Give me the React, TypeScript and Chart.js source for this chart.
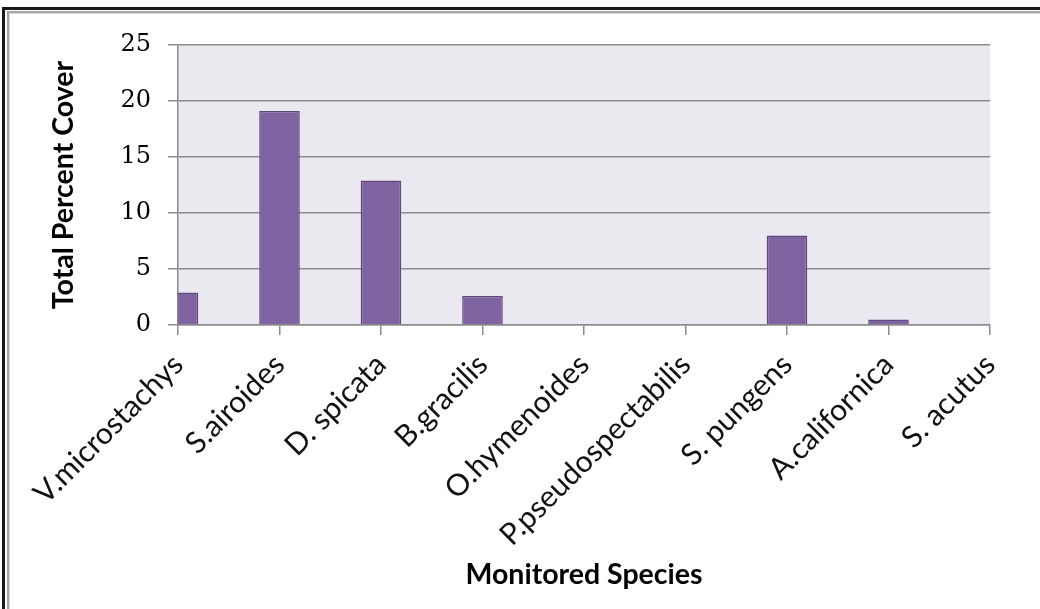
import React, { useEffect, useRef } from "react";
import { Chart, registerables } from "chart.js";

Chart.register(...registerables);

// Species monitored along the transects
const species = [
  "V.microstachys",
  "S.airoides",
  "D. spicata",
  "B.gracilis",
  "O.hymenoides",
  "P.pseudospectabilis",
  "S. pungens",
  "A.californica",
  "S. acutus",
];

// Total percent cover per species
const percentCover = [2.9, 19.1, 12.9, 2.6, 0, 0, 8.0, 0.5, 0];

// Y-axis range and step
const yMin = 0;
const yMax = 25;
const yStep = 5;

const W = 1040;
const H = 609;

// Shades the plotting area behind grid and bars
const plotBackground = {
  id: "plotBackground",
  beforeDraw(chart: any) {
    const { ctx, chartArea } = chart;
    ctx.save();
    ctx.fillStyle = "#ebe9f0";
    ctx.fillRect(
      chartArea.left,
      chartArea.top,
      chartArea.right - chartArea.left,
      chartArea.bottom - chartArea.top
    );
    ctx.restore();
  },
};

// Double frame along the top and left edges of the figure
const outerFrame = {
  id: "outerFrame",
  afterDraw(chart: any) {
    const { ctx } = chart;
    ctx.save();
    ctx.fillStyle = "#1a1a1a";
    ctx.fillRect(2, 7, 3, H - 7);
    ctx.fillRect(2, 7, W - 2, 3);
    ctx.fillStyle = "#a6a6a6";
    ctx.fillRect(7, 11, 2, H - 11);
    ctx.fillRect(7, 11, W - 7, 2);
    ctx.fillStyle = "#d9d9d9";
    ctx.fillRect(9, 13, 1, H - 13);
    ctx.fillRect(9, 13, W - 9, 1);
    ctx.restore();
  },
};

export default function App() {
  const canvasRef = useRef<HTMLCanvasElement | null>(null);

  useEffect(() => {
    if (!canvasRef.current) return;
    const chart = new Chart(canvasRef.current, {
      type: "bar",
      data: {
        labels: species,
        datasets: [
          {
            data: percentCover,
            backgroundColor: "#8064a2",
            borderColor: "#5f4a7d",
            borderWidth: 1.5,
            categoryPercentage: 1,
            barPercentage: 0.4,
            clip: 0,
          },
        ],
      },
      options: {
        responsive: false,
        animation: false,
        devicePixelRatio: 1,
        layout: { padding: { top: 45, right: 50, left: 0, bottom: 0 } },
        plugins: {
          legend: { display: false },
          tooltip: { enabled: false },
          title: { display: false },
        },
        scales: {
          x: {
            offset: false,
            grid: {
              offset: false,
              drawOnChartArea: false,
              drawTicks: true,
              tickLength: 10,
              color: "#8c8c8c",
              lineWidth: 1.5,
            },
            border: { display: true, color: "#8c8c8c", width: 1.5 },
            ticks: {
              autoSkip: false,
              maxRotation: 45,
              minRotation: 45,
              padding: 12,
              color: "#111",
              font: { family: "Lato", size: 30 },
            },
            title: {
              display: true,
              text: "Monitored Species",
              color: "#000",
              font: { family: "Lato", size: 28.5, weight: "bold" },
              padding: { top: 0, bottom: 17 },
            },
            afterFit(scale: any) {
              scale.height = H - 325;
            },
          },
          y: {
            min: yMin,
            max: yMax,
            ticks: {
              stepSize: yStep,
              padding: 17,
              color: "#000",
              font: { family: "DejaVu Serif", size: 24 },
            },
            grid: {
              color: "#8c8c8c",
              lineWidth: 1.5,
              tickLength: 10,
            },
            border: { display: true, color: "#8c8c8c", width: 1.5 },
            title: {
              display: true,
              text: "Total Percent Cover",
              color: "#000",
              font: { family: "Lato", size: 28.5, weight: "bold" },
              padding: { top: 47, bottom: 0 },
            },
            afterFit(scale: any) {
              scale.width = 178;
            },
          },
        },
      },
      plugins: [plotBackground, outerFrame],
    });
    return () => chart.destroy();
  }, []);

  return (
    <div
      style={{
        position: "fixed",
        left: 0,
        top: 0,
        width: W,
        height: H,
        background: "#fff",
      }}
    >
      <canvas ref={canvasRef} width={W} height={H} />
    </div>
  );
}
